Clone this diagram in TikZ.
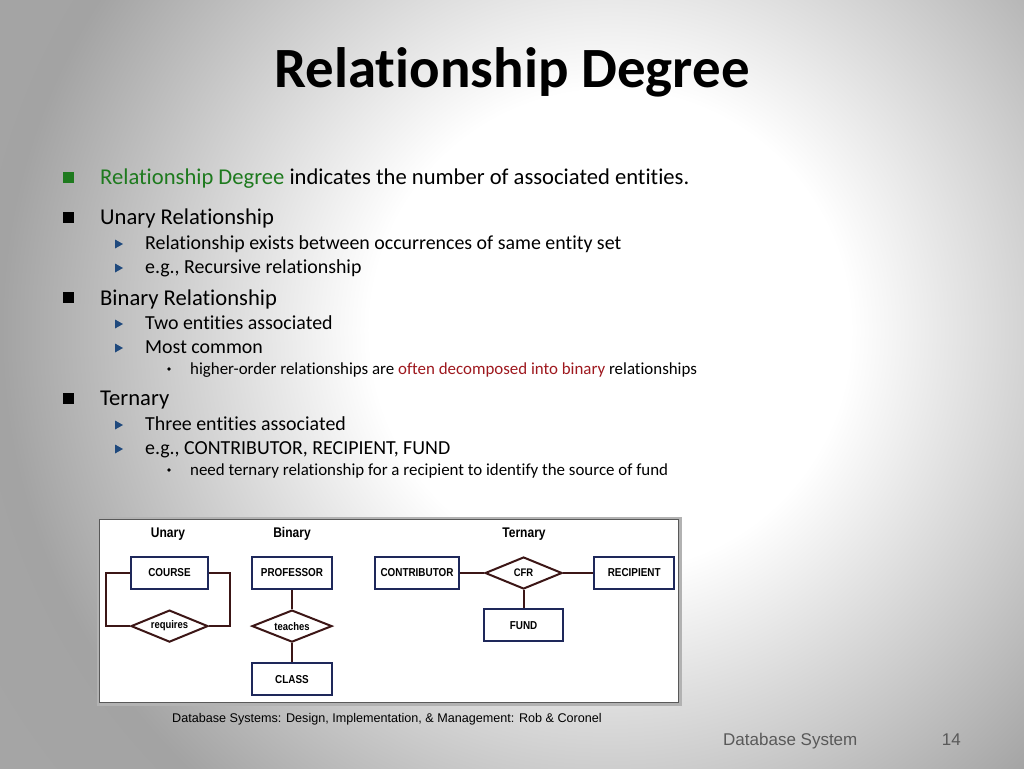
\documentclass[tikz,border=0pt]{standalone}
\usepackage{fontspec}
\setmainfont[Ligatures = NoCommon]{Carlito}
\newfontfamily\erfont[FakeStretch=0.86]{Liberation Sans}
\newfontfamily\citefont{Liberation Sans}
\usetikzlibrary{shapes.geometric, positioning}
\definecolor{keygreen}{RGB}{30,122,30}
\definecolor{notered}{RGB}{158,24,30}
\definecolor{tipblue}{RGB}{31,73,125}
\definecolor{entblue}{RGB}{30,40,90}
\definecolor{relbrown}{RGB}{60,22,22}
\definecolor{footgray}{RGB}{89,89,89}
\pgfdeclareradialshading{slideglow}{\pgfpoint{0bp}{0bp}}{color(0bp)=(white); color(7.5bp)=(white); color(19bp)=(gray!72); color(25bp)=(gray!70); color(50bp)=(gray!70)}

\begin{document}
\begin{tikzpicture}[x = 1pt, y = -1pt,
		lvlone/.style = { anchor = base west, inner sep = 0, font = \fontsize{22.6}{26}\selectfont },
		lvltwo/.style = { anchor = base west, inner sep = 0, font = \fontsize{19.9}{23}\selectfont },
		lvlthree/.style = { anchor = base west, inner sep = 0, font = \fontsize{16.9}{20}\selectfont },
		entity/.style = { draw = entblue, line width = 2.2pt, fill = white, minimum width = 80pt, minimum height = 32pt, inner sep = 2pt, font = \erfont\bfseries\fontsize{11.5}{13}\selectfont },
		relation/.style = { draw = relbrown, line width = 2pt, fill = white, diamond, aspect = 2.4, minimum width = 77pt, minimum height = 32pt, inner sep = 0, font = \erfont\bfseries\fontsize{11}{13}\selectfont },
		heading/.style = { inner sep = 0, font = \erfont\bfseries\fontsize{14}{16}\selectfont },
		link/.style = { draw = relbrown, line width = 2pt }]
	\useasboundingbox (0,0) rectangle (1024,768);
	\fill[gray!72] (0,0) rectangle (1024,768);
	\begin{scope}
		\clip (0,0) rectangle (1024,768);
		\shade[shading = slideglow] (610,330) circle (800);
	\end{scope}

	\node[anchor = base, inner sep = 0, font = \bfseries\fontsize{56.9}{62}\selectfont] (title) at (512,87) {Relationship Degree};

	% bullets
	\fill[keygreen] (63,172) rectangle ++(11,11);
	\foreach \y in {212, 292, 393}
		\fill (63,\y) rectangle ++(11,11);
	\foreach \y in {244, 268, 324, 348, 425, 449}
		\fill[tipblue] (115,\y-4.5) -- (123,\y) -- (115,\y+4.5) -- cycle;
	\foreach \y in {369, 470}
		\fill (169,\y) circle (1.8);

	\node[lvlone] (degree) at (100,184) {\textcolor{keygreen}{Relationship Degree} indicates the number of associated entities.};
	\node[lvlone] (unary) at (100,224) {Unary Relationship};
	\node[lvltwo] (u1) at (145,249) {Relationship exists between occurrences of same entity set};
	\node[lvltwo] (u2) at (145,273) {e.g., Recursive relationship};
	\node[lvlone] (binary) at (100,305) {Binary Relationship};
	\node[lvltwo] (b1) at (145,329) {Two entities associated};
	\node[lvltwo] (b2) at (145,353) {Most common};
	\node[lvlthree] (b3) at (190,374) {higher-order relationships are \textcolor{notered}{often decomposed into binary} relationships};
	\node[lvlone] (ternary) at (100,405) {Ternary};
	\node[lvltwo] (t1) at (145,430) {Three entities associated};
	\node[lvltwo] (t2) at (145,454) {e.g., CONTRIBUTOR, RECIPIENT, FUND};
	\node[lvlthree] (t3) at (190,475) {need ternary relationship for a recipient to identify the source of fund};

	% ER figure
	\draw[gray!60, line width = 3pt, fill = white] (98,518) rectangle (680,704);
	\draw[black!65, line width = 0.8pt] (99.5,519.5) rectangle (678.5,702.5);

	\node[heading] (hunary) at (168,534) {Unary};
	\node[heading] (hbinary) at (292,534) {Binary};
	\node[heading] (hternary) at (524,534) {Ternary};

	\node[entity, minimum width = 77pt] (course) at (169.5,573) {COURSE};
	\node[relation, below = 19pt of course] (requires) {requires};
	\draw[link] (course.west) -- ++(-24,0) |- (requires.west);
	\draw[link] (course.east) -- ++(21,0) |- (requires.east);

	\node[entity] (professor) at (292,573) {PROFESSOR};
	\node[relation, minimum width = 80pt, below = 19pt of professor] (teaches) {teaches};
	\node[entity, below = 19pt of teaches] (class) {CLASS};
	\draw[link] (professor) -- (teaches);
	\draw[link] (teaches) -- (class);

	\node[entity, minimum width = 84pt] (contributor) at (417,573) {CONTRIBUTOR};
	\node[relation, right = 24pt of contributor] (cfr) {CFR};
	\node[entity, right = 30pt of cfr] (recipient) {RECIPIENT};
	\node[entity, minimum width = 79pt, below = 18pt of cfr] (fund) {FUND};
	\draw[link] (contributor) -- (cfr);
	\draw[link] (cfr) -- (recipient);
	\draw[link] (cfr) -- (fund);

	\node[anchor = base west, inner sep = 0, font = \citefont\fontsize{12.6}{14}\selectfont] (source) at (172,722) {Database Systems: Design, Implementation, \& Management: Rob \& Coronel};
	\node[anchor = base west, inner sep = 0, text = footgray, font = \citefont\fontsize{17}{19}\selectfont] (course name) at (723,745) {Database System};
	\node[anchor = base east, inner sep = 0, text = footgray, font = \citefont\fontsize{17}{19}\selectfont] (page) at (961,745) {14};
\end{tikzpicture}
\end{document}
